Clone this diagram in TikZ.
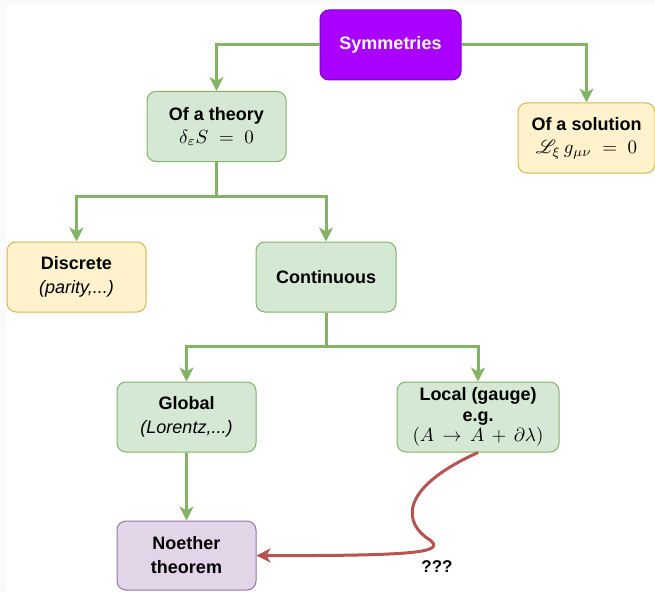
\documentclass[tikz,border=0pt]{standalone}
\usepackage{amsmath,mathrsfs,graphicx}
\usepackage{fontspec}
\setmainfont{Liberation Sans}
\usetikzlibrary{arrows.meta}
\definecolor{gfill}{HTML}{D5E8D4}\definecolor{gline}{HTML}{82B366}
\definecolor{yfill}{HTML}{FFF2CC}\definecolor{yline}{HTML}{D6B656}
\definecolor{pfill}{HTML}{AA00FF}\definecolor{pline}{HTML}{7700CC}
\definecolor{lfill}{HTML}{E1D5E7}\definecolor{lline}{HTML}{9673A6}
\definecolor{rline}{HTML}{B85450}
\definecolor{edgegray}{HTML}{FAFAFA}
\newcommand{\bigmath}[1]{{\fontsize{10}{12}\selectfont\scalebox{1.9}{$#1$}}}
\begin{document}
\begin{tikzpicture}[x=1pt,y=-1pt,
  box/.style={rounded corners=9pt, line width=1pt, minimum width=139pt, minimum height=70pt,
    align=center, inner sep=2pt, font=\fontsize{18}{24}\selectfont\bfseries},
  greenbox/.style={box, fill=gfill, draw=gline},
  yellowbox/.style={box, fill=yfill, draw=yline},
  tip/.style={-{Stealth[length=14pt,width=14pt,inset=4pt]}},
  garrow/.style={draw=gline, line width=3pt, line join=miter, tip},
  gline3/.style={draw=gline, line width=3pt},
  rarrow/.style={draw=rline, line width=3pt, tip},
]
\useasboundingbox (0,0) rectangle (655,591);
\fill[edgegray] (0,0) rectangle (655,591);
\fill[white] (6,4) rectangle (655,591);

\node[box, fill=pfill, draw=pline, text=white, minimum width=141pt] (sym) at (390.5,45) {Symmetries};
\node[greenbox] (theory) at (216.5,126.5) {Of a theory\\[-1pt] \bigmath{\delta_\varepsilon S \;=\; 0}};
\node[yellowbox, minimum width=137pt] (sol) at (586.5,138) {Of a solution\\[-1pt] \bigmath{\mathscr{L}_\xi\, g_{\mu\nu} \;=\; 0}};
\node[yellowbox] (disc) at (76.5,277) {Discrete\\ {\mdseries\itshape (parity,...)}};
\node[greenbox, minimum width=140pt] (cont) at (326,277) {Continuous};
\node[greenbox] (glob) at (186.5,417) {Global\\ {\mdseries\itshape (Lorentz,...)}};
\node[greenbox, minimum width=162pt, font=\fontsize{18}{21}\selectfont\bfseries] (local) at (478,417) {Local (gauge)\\ e.g.\\[-1pt] \bigmath{(A \,\to\, A \,+\, \partial\lambda)}};
\node[box, fill=lfill, draw=lline, minimum height=69pt] (noe) at (186.5,555.5) {Noether\\ theorem};

\coordinate (j1) at (216.5,196);
\coordinate (j2) at (326,346);

\draw[garrow] (sym.west) -| (theory.north);
\draw[garrow] (sym.east) -| (sol.north);
\draw[gline3] (theory.south) -- (j1);
\draw[garrow] (j1) -| (disc.north);
\draw[garrow] (j1) -| (cont.north);
\draw[gline3] (cont.south) -- (j2);
\draw[garrow] (j2) -| (glob.north);
\draw[garrow] (j2) -| (local.north);
\draw[garrow] (glob.south) -- (noe.north);

\draw[rarrow] (local.south) .. controls (395,490) and (405,525) .. (430,540)
  .. controls (445,552) and (420,556) .. (noe.east);
\node[font=\fontsize{17}{20}\selectfont\bfseries] (q) at (437,567) {???};
\end{tikzpicture}
\end{document}
